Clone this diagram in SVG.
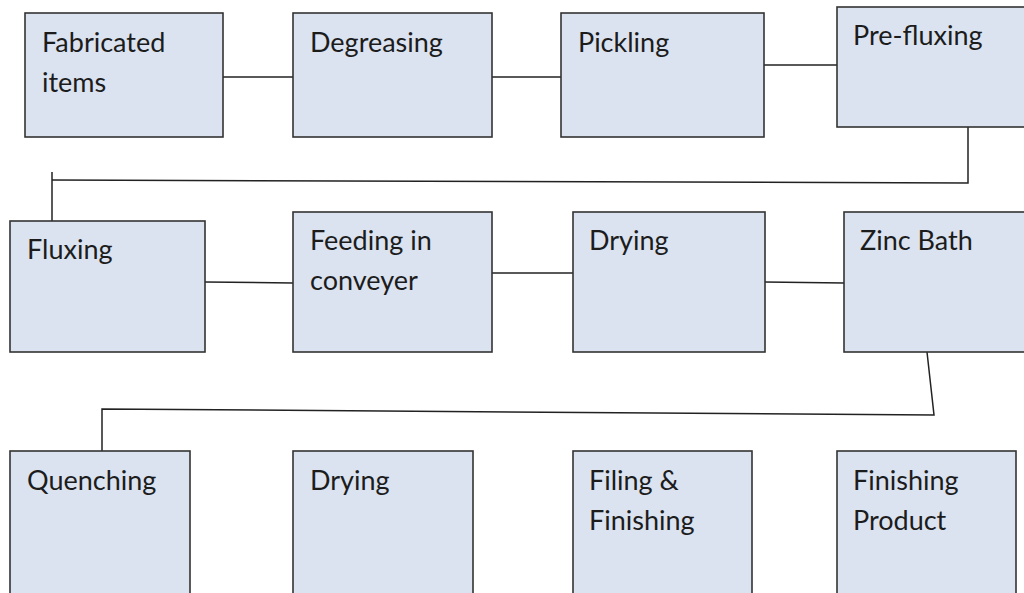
<svg xmlns="http://www.w3.org/2000/svg" width="1024" height="593" viewBox="0 0 1024 593">
<style>
.box{fill:#dbe3f0;stroke:#333;stroke-width:1.6}
.lbl{font-family:Lato,"Open Sans",sans-serif;font-size:27px;fill:#1c1c1c}
.con{fill:none;stroke:#222;stroke-width:1.5}
</style>
<rect width="1024" height="593" fill="#fff"/>
<g id="connectors">
<line class="con" x1="223" y1="77" x2="293" y2="77"/>
<line class="con" x1="492" y1="77" x2="561" y2="77"/>
<line class="con" x1="764" y1="65" x2="837" y2="65"/>
<polyline class="con" points="968,127 968,183 52,180"/>
<line class="con" x1="52" y1="172" x2="52" y2="221"/>
<line class="con" x1="205" y1="282" x2="293" y2="283"/>
<line class="con" x1="492" y1="273" x2="573" y2="273"/>
<line class="con" x1="765" y1="282" x2="844" y2="283"/>
<polyline class="con" points="927,352 934,415 102,409 102,451"/>
</g>
<g id="n1"><rect class="box" x="25" y="13" width="198" height="124"/><text class="lbl" x="42" y="52">Fabricated</text><text class="lbl" x="42" y="92">items</text></g>
<g id="n2"><rect class="box" x="293" y="13" width="199" height="124"/><text class="lbl" x="310" y="52">Degreasing</text></g>
<g id="n3"><rect class="box" x="561" y="13" width="203" height="124"/><text class="lbl" x="578" y="52">Pickling</text></g>
<g id="n4"><rect class="box" x="837" y="7" width="200" height="120"/><text class="lbl" x="853" y="45">Pre-fluxing</text></g>
<g id="n5"><rect class="box" x="10" y="221" width="195" height="131"/><text class="lbl" x="27" y="259">Fluxing</text></g>
<g id="n6"><rect class="box" x="293" y="212" width="199" height="140"/><text class="lbl" x="310" y="250">Feeding in</text><text class="lbl" x="310" y="290">conveyer</text></g>
<g id="n7"><rect class="box" x="573" y="212" width="192" height="140"/><text class="lbl" x="589" y="250">Drying</text></g>
<g id="n8"><rect class="box" x="844" y="212" width="200" height="140"/><text class="lbl" x="860" y="250">Zinc Bath</text></g>
<g id="n9"><rect class="box" x="10" y="451" width="180" height="160"/><text class="lbl" x="27" y="490">Quenching</text></g>
<g id="n10"><rect class="box" x="293" y="451" width="180" height="160"/><text class="lbl" x="310" y="490">Drying</text></g>
<g id="n11"><rect class="box" x="573" y="451" width="179" height="160"/><text class="lbl" x="589" y="490">Filing &amp;</text><text class="lbl" x="589" y="530">Finishing</text></g>
<g id="n12"><rect class="box" x="837" y="451" width="179" height="160"/><text class="lbl" x="853" y="490">Finishing</text><text class="lbl" x="853" y="530">Product</text></g>
</svg>
